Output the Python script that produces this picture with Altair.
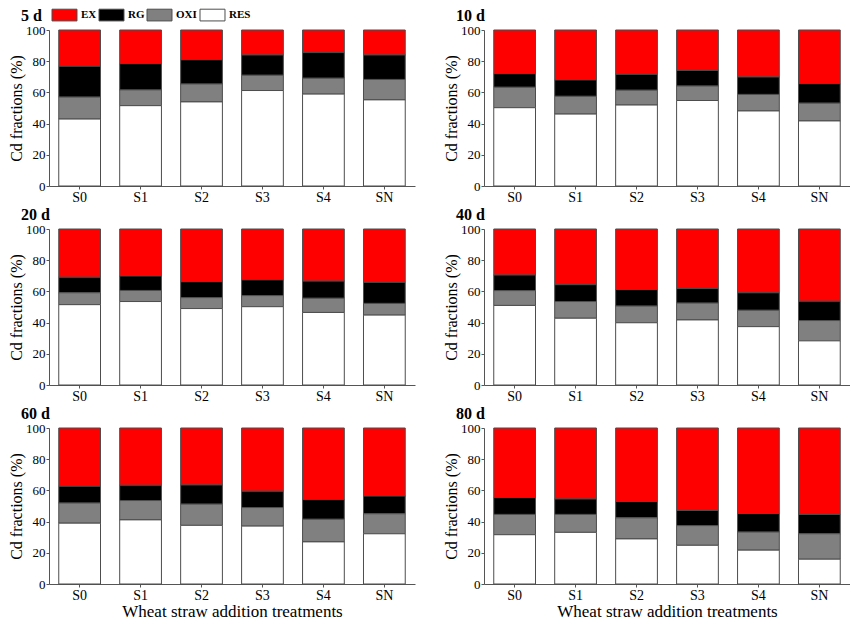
import altair as alt
import pandas as pd

treatments = ["S0", "S1", "S2", "S3", "S4", "SN"]
fractions = ["EX", "RG", "OXI", "RES"]
fraction_colors = ["#ff0000", "#000000", "#808080", "#ffffff"]
days = ["5 d", "10 d", "20 d", "40 d", "60 d", "80 d"]

# Cd fractions (%) per treatment
res_5 = [42.9, 51.5, 53.9, 61.2, 58.9, 55.2]
oxi_5 = [14.1, 10.1, 11.5, 9.8, 10.2, 13.1]
rg_5 = [19.8, 16.8, 15.5, 13.0, 16.4, 15.7]
ex_5 = [23.2, 21.6, 19.1, 16.0, 14.5, 16.0]

res_10 = [50.2, 46.1, 51.9, 54.8, 48.1, 41.7]
oxi_10 = [13.1, 11.4, 9.5, 9.3, 10.6, 11.4]
rg_10 = [8.7, 10.5, 10.2, 10.0, 11.2, 12.5]
ex_10 = [28.0, 32.0, 28.4, 25.9, 30.1, 34.4]

res_20 = [51.5, 53.5, 49.0, 50.2, 46.5, 44.8]
oxi_20 = [7.6, 7.1, 7.0, 7.1, 9.1, 7.5]
rg_20 = [10.0, 9.3, 10.2, 10.1, 11.0, 13.5]
ex_20 = [30.9, 30.1, 33.8, 32.6, 33.4, 34.2]

res_40 = [51.0, 42.8, 39.9, 41.7, 37.4, 28.3]
oxi_40 = [9.5, 10.7, 10.7, 10.8, 10.5, 13.0]
rg_40 = [10.0, 10.8, 10.6, 9.3, 11.2, 12.4]
ex_40 = [29.5, 35.7, 38.8, 38.2, 40.9, 46.3]

res_60 = [39.0, 41.1, 37.6, 37.1, 27.0, 32.2]
oxi_60 = [12.9, 12.4, 13.6, 11.9, 14.5, 12.8]
rg_60 = [10.8, 9.8, 12.3, 10.5, 12.6, 11.4]
ex_60 = [37.3, 36.7, 36.5, 40.5, 45.9, 43.6]

res_80 = [31.6, 33.1, 28.9, 24.8, 21.7, 15.9]
oxi_80 = [13.0, 11.5, 13.5, 12.6, 11.6, 16.3]
rg_80 = [10.8, 9.9, 10.5, 9.7, 11.9, 12.4]
ex_80 = [44.6, 45.5, 47.1, 52.9, 54.8, 55.4]

series = {
    "5 d": (ex_5, rg_5, oxi_5, res_5),
    "10 d": (ex_10, rg_10, oxi_10, res_10),
    "20 d": (ex_20, rg_20, oxi_20, res_20),
    "40 d": (ex_40, rg_40, oxi_40, res_40),
    "60 d": (ex_60, rg_60, oxi_60, res_60),
    "80 d": (ex_80, rg_80, oxi_80, res_80),
}

rows = []
for day in days:
    for fi, (frac, vals) in enumerate(zip(fractions, series[day])):
        for t, v in zip(treatments, vals):
            rows.append({"day": day, "treatment": t, "fraction": frac,
                         "value": v, "ord": 3 - fi})
df = pd.DataFrame(rows)

FONT = "Liberation Serif"


def panel(day, bottom):
    xaxis = dict(labelAngle=0, labelFontSize=14, labelPadding=1, tickSize=3,
                 titleFontSize=17, titleFontWeight="normal", titlePadding=1)
    if bottom:
        xaxis["title"] = "Wheat straw addition treatments"
    else:
        xaxis["title"] = None
    return (
        alt.Chart(df[df["day"] == day])
        .mark_bar(stroke="#4d4d4d", strokeWidth=1)
        .encode(
            x=alt.X("treatment:N", sort=treatments,
                    scale=alt.Scale(paddingInner=0.315, paddingOuter=0.16),
                    axis=alt.Axis(**xaxis)),
            y=alt.Y("value:Q", stack="zero",
                    scale=alt.Scale(domain=[0, 100], nice=False),
                    axis=alt.Axis(title="Cd fractions (%)", values=[0, 20, 40, 60, 80, 100],
                                  labelFontSize=13, labelPadding=1, tickSize=3,
                                  titleFontSize=16, titleFontWeight="normal",
                                  titlePadding=1)),
            fill=alt.Fill("fraction:N",
                          scale=alt.Scale(domain=fractions, range=fraction_colors),
                          legend=alt.Legend(title=None, orient="none", direction="horizontal",
                                            legendX=8.5, legendY=-22,
                                            symbolType="M-2,-0.94H2V0.94H-2Z",
                                            symbolSize=156, symbolStrokeColor="#4d4d4d",
                                            symbolStrokeWidth=1, labelFontSize=11,
                                            labelFontWeight="bold", labelOffset=9.5,
                                            columnPadding=0, padding=0)),
            order=alt.Order("ord:Q", sort="ascending"),
        )
        .properties(width=366, height=156,
                    title=alt.TitleParams(day, anchor="start", frame="group", dx=-28,
                                          fontSize=16, fontWeight="bold", offset=0))
    )


grid = alt.vconcat(
    alt.hconcat(panel("5 d", False), panel("10 d", False), spacing=28),
    alt.hconcat(panel("20 d", False), panel("40 d", False), spacing=28),
    alt.hconcat(panel("60 d", True), panel("80 d", True), spacing=28),
    spacing=3,
)

chart = (
    grid.properties(padding=0)
    .configure(font=FONT)
    .configure_view(strokeWidth=0)
    .configure_axis(domainColor="#555555", tickColor="#555555", labelColor="#000000",
                    titleColor="#000000", grid=False, labelFont=FONT, titleFont=FONT)
    .configure_legend(labelFont=FONT, labelColor="#000000")
    .configure_title(font=FONT, color="#000000")
)

chart.save("out.html", embed_options={"renderer": "svg", "actions": False})
